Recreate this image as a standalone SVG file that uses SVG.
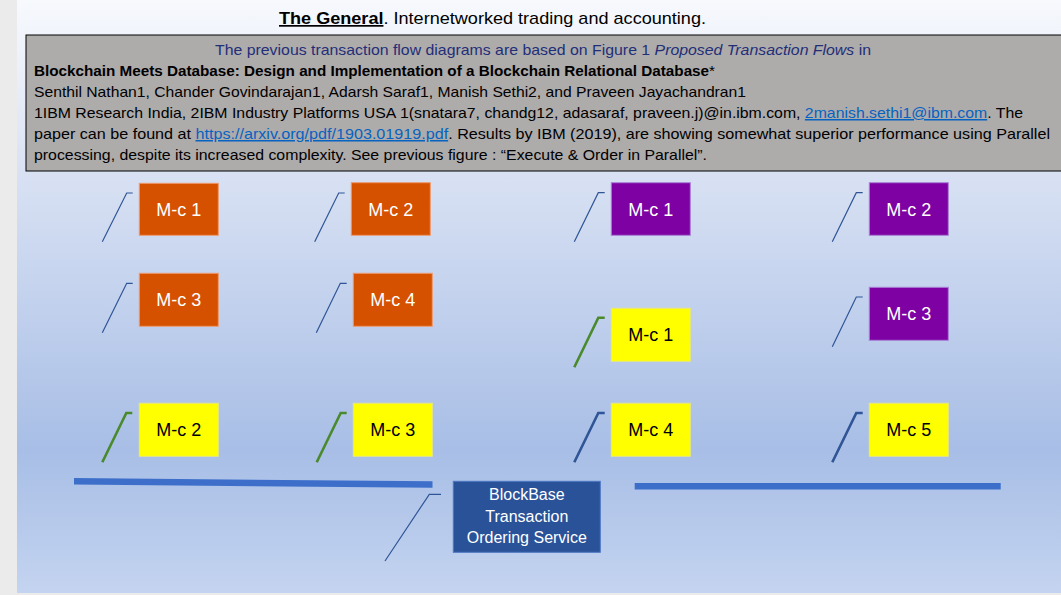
<svg xmlns="http://www.w3.org/2000/svg" width="1061" height="595" viewBox="0 0 1061 595">
  <defs>
    <linearGradient id="bg" x1="0" y1="0" x2="0" y2="1">
      <stop offset="0" stop-color="#f7f9fd"/>
      <stop offset="0.3" stop-color="#d8e1f3"/>
      <stop offset="0.76" stop-color="#a8bee6"/>
      <stop offset="1" stop-color="#c4d4f0"/>
    </linearGradient>
    <style>
      .txt { font-family: "Liberation Sans", Arial, sans-serif; }
      .lbl { font-family: "Liberation Sans", Arial, sans-serif; font-size: 18px; text-anchor: middle; }
      .w { fill: #ffffff; }
      .k { fill: #000000; }
      .orange { fill: #d55100; stroke: #ee9a6e; stroke-width: 1; }
      .purple { fill: #7e01a3; stroke: #a981d6; stroke-width: 1; }
      .yellow { fill: #ffff00; stroke: #e8e87a; stroke-width: 1; }
      .thin { fill: none; stroke: #2f5597; stroke-width: 1.2; }
      .thickg { fill: none; stroke: #4a8a2c; stroke-width: 2.6; }
      .thickb { fill: none; stroke: #2f5597; stroke-width: 2.6; }
      .link { fill: #0563c1; text-decoration: underline; }
      .bar { fill: none; stroke: #3d6fca; stroke-width: 6.5; }
    </style>
  </defs>

  <!-- page background -->
  <rect x="0" y="0" width="1061" height="595" fill="#ebebeb"/>
  <rect x="17" y="0" width="1044" height="593" fill="url(#bg)"/>

  <!-- title -->
  <text class="txt" x="279" y="24" font-size="17" textLength="427" lengthAdjust="spacingAndGlyphs" fill="#000"><tspan font-weight="bold" text-decoration="underline">The General</tspan>. Internetworked trading and accounting.</text>

  <!-- info box -->
  <g id="info">
    <rect x="26" y="35" width="1045" height="136" fill="#aeabab" stroke="#000" stroke-width="1"/>
    <text class="txt" x="215" y="55" font-size="15" fill="#1f2f78" textLength="656" lengthAdjust="spacingAndGlyphs">The previous transaction flow diagrams are based on Figure 1 <tspan font-style="italic">Proposed Transaction Flows</tspan> in</text>
    <text class="txt" x="34" y="76" font-size="15" fill="#000" textLength="681" lengthAdjust="spacingAndGlyphs"><tspan font-weight="bold">Blockchain Meets Database: Design and Implementation of a Blockchain Relational Database</tspan>*</text>
    <text class="txt" x="34" y="97" font-size="15" fill="#000" textLength="712" lengthAdjust="spacingAndGlyphs">Senthil Nathan1, Chander Govindarajan1, Adarsh Saraf1, Manish Sethi2, and Praveen Jayachandran1</text>
    <text class="txt" x="34" y="118" font-size="15" fill="#000" textLength="989" lengthAdjust="spacingAndGlyphs">1IBM Research India, 2IBM Industry Platforms USA 1(snatara7, chandg12, adasaraf, praveen.j)@in.ibm.com, <tspan class="link">2manish.sethi1@ibm.com</tspan>. The</text>
    <text class="txt" x="34" y="139" font-size="15" fill="#000" textLength="1016" lengthAdjust="spacingAndGlyphs">paper can be found at <tspan class="link">https://arxiv.org/pdf/1903.01919.pdf</tspan>. Results by IBM (2019), are showing somewhat superior performance using Parallel</text>
    <text class="txt" x="34" y="160" font-size="15" fill="#000" textLength="673" lengthAdjust="spacingAndGlyphs">processing, despite its increased complexity. See previous figure : “Execute &amp; Order in Parallel”.</text>
  </g>

  <!-- bars -->
  <g id="bars">
    <line class="bar" x1="74" y1="481.3" x2="432.5" y2="484.6"/>
    <line class="bar" x1="634.7" y1="486.3" x2="1000.7" y2="486.3"/>
  </g>

  <!-- connectors (leader lines) -->
  <g id="connectors">
    <polyline class="thin" points="102.3,241.7 126.7,193 132.7,193"/>
    <polyline class="thin" points="314.7,241.7 338.7,193 344.7,193"/>
    <polyline class="thin" points="102.3,332.7 126.7,283.3 132.7,283.3"/>
    <polyline class="thin" points="316.3,332.7 340.3,283.3 346.7,283.3"/>
    <polyline class="thin" points="574.3,241.7 598.3,192.7 604.7,192.7"/>
    <polyline class="thin" points="832.3,241.7 856.3,192.7 862.7,192.7"/>
    <polyline class="thin" points="832.3,346.7 856.3,297 862.7,297"/>
    <polyline class="thickg" points="574.3,367.3 598.3,317.7 604.7,317.7"/>
    <polyline class="thickg" points="102.3,462.3 126.3,413 132.3,413"/>
    <polyline class="thickg" points="316.7,462.3 340.7,413 346.7,413"/>
    <polyline class="thickb" points="574.3,462.3 598.3,413 604.7,413"/>
    <polyline class="thickb" points="832.3,462.3 856.3,413 862.7,413"/>
    <polyline class="thin" points="385,561 429.3,494.3 441,494.3"/>
  </g>

  <!-- orange nodes -->
  <g id="orange-mc1"><rect class="orange" x="139.3" y="183.3" width="79" height="52"/><text class="lbl w" x="178.8" y="215.8">M-c 1</text></g>
  <g id="orange-mc2"><rect class="orange" x="351.3" y="182.7" width="79" height="52.6"/><text class="lbl w" x="390.8" y="215.5">M-c 2</text></g>
  <g id="orange-mc3"><rect class="orange" x="139.3" y="273.3" width="79" height="53"/><text class="lbl w" x="178.8" y="306.3">M-c 3</text></g>
  <g id="orange-mc4"><rect class="orange" x="353.3" y="273.3" width="79" height="53"/><text class="lbl w" x="392.8" y="306.3">M-c 4</text></g>

  <!-- purple nodes -->
  <g id="purple-mc1"><rect class="purple" x="611.3" y="182.7" width="79" height="52.6"/><text class="lbl w" x="650.8" y="215.5">M-c 1</text></g>
  <g id="purple-mc2"><rect class="purple" x="869.3" y="182.7" width="79" height="52.6"/><text class="lbl w" x="908.8" y="215.5">M-c 2</text></g>
  <g id="purple-mc3"><rect class="purple" x="869.3" y="287.3" width="79" height="53"/><text class="lbl w" x="908.8" y="320.3">M-c 3</text></g>

  <!-- yellow nodes -->
  <g id="yellow-mc1"><rect class="yellow" x="611.3" y="308.3" width="79" height="53"/><text class="lbl k" x="650.8" y="341.3">M-c 1</text></g>
  <g id="yellow-mc2"><rect class="yellow" x="139.3" y="403.3" width="79" height="53"/><text class="lbl k" x="178.8" y="436.3">M-c 2</text></g>
  <g id="yellow-mc3"><rect class="yellow" x="353.3" y="403.3" width="79" height="53"/><text class="lbl k" x="392.8" y="436.3">M-c 3</text></g>
  <g id="yellow-mc4"><rect class="yellow" x="611.3" y="403.3" width="79" height="53"/><text class="lbl k" x="650.8" y="436.3">M-c 4</text></g>
  <g id="yellow-mc5"><rect class="yellow" x="869.3" y="403.3" width="79" height="53"/><text class="lbl k" x="908.8" y="436.3">M-c 5</text></g>

  <!-- BlockBase -->
  <g id="blockbase">
    <rect x="453.3" y="481.3" width="147" height="71" fill="#2a5299" stroke="#4d77c6" stroke-width="1"/>
    <text class="txt w" x="526.8" y="500" font-size="16" text-anchor="middle">BlockBase</text>
    <text class="txt w" x="526.8" y="521.5" font-size="16" text-anchor="middle">Transaction</text>
    <text class="txt w" x="526.8" y="543" font-size="16" text-anchor="middle">Ordering Service</text>
  </g>
</svg>
